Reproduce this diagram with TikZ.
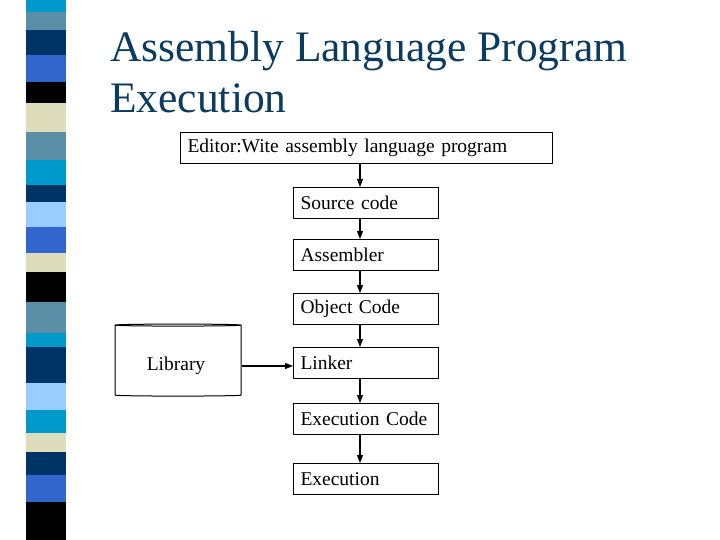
\documentclass[tikz,border=0pt]{standalone}
\usepackage{fontspec}
\setmainfont{Liberation Serif}
\usetikzlibrary{arrows.meta,shapes.geometric}
\definecolor{cA}{HTML}{0099CC}\definecolor{cB}{HTML}{5B8FA8}\definecolor{cC}{HTML}{003366}
\definecolor{cD}{HTML}{3366CC}\definecolor{cE}{HTML}{000000}\definecolor{cF}{HTML}{DDDDBB}
\definecolor{cG}{HTML}{99CCFF}\definecolor{titlec}{HTML}{0B3B60}
\tikzset{box/.style={draw,line width=1pt,anchor=north west,minimum height=31pt,text width=#1,align=left,inner xsep=7pt,font=\fontsize{19.5}{22}\selectfont},
 arr/.style={-{Triangle[length=8pt,width=6pt]},line width=1.2pt}}
\begin{document}
\begin{tikzpicture}[x=1pt,y=-1pt]
\useasboundingbox (0,0) rectangle (720,540);
\foreach \a/\b/\c in {0/12/cA,12/30/cB,30/55/cC,55/82/cD,82/103/cE,103/132/cF,132/160/cB,160/185/cA,185/202/cC,202/227/cG,227/253/cD,253/272/cF,272/302/cE,302/333/cB,333/347/cA,347/383/cC,383/410/cG,410/433/cA,433/452/cF,452/475/cC,475/502/cD,502/540/cE}
  \fill[\c] (26,\a) rectangle (66,\b);
\node[anchor=base west,inner sep=0,text=titlec,font=\fontsize{43.5}{50}\selectfont] (t1) at (110,62) {Assembly Language Program};
\node[anchor=base west,inner sep=0,text=titlec,font=\fontsize{43.5}{50}\selectfont] (t2) at (110,113) {Execution};
\node[box=358pt,minimum width=372pt] (ed) at (180,132) {Editor:Wite assembly language program};
\node[box=131pt,minimum width=145pt] (sc) at (293,187) {Source code};
\node[box=131pt,minimum width=145pt] (as) at (293,239) {Assembler};
\node[box=131pt,minimum width=145pt] (oc) at (293,293) {Object Code};
\node[box=131pt,minimum width=145pt] (li) at (293,347) {Linker};
\node[box=131pt,minimum width=145pt] (ec) at (293,403) {Execution Code};
\node[box=131pt,minimum width=145pt] (ex) at (293,463) {Execution};
\draw[arr] (ed.south -| 360,0) -- (sc.north -| 360,0);
\draw[arr] (sc.south -| 360,0) -- (as.north -| 360,0);
\draw[arr] (as.south -| 360,0) -- (oc.north -| 360,0);
\draw[arr] (oc.south -| 360,0) -- (li.north -| 360,0);
\draw[arr] (li.south -| 360,0) -- (ec.north -| 360,0);
\draw[arr] (ec.south -| 360,0) -- (ex.north -| 360,0);
\node[cylinder,shape border rotate=90,draw,line width=1pt,minimum width=126pt,minimum height=72pt,aspect=0.3] (lib) at (178,361) {};
\node[font=\fontsize{19.5}{22}\selectfont] (libt) at (176,366) {Library};
\draw[arr] (lib.east |- 0,366) -- (li.west |- 0,366);
\end{tikzpicture}
\end{document}
